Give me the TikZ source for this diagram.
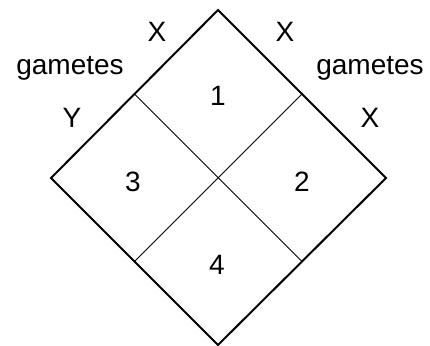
\documentclass[tikz,border=0pt]{standalone}
\usepackage{fontspec}
\setmainfont{Liberation Sans}
\usepackage{tikz}
\usetikzlibrary{positioning,calc}
\tikzset{
  rim/.style={line width=2pt, line join=miter},
  grid/.style={line width=0.8pt},
  lbl/.style={font=\fontsize{28}{30}\selectfont, inner sep=0pt},
  num/.style={lbl},
}

\begin{document}
\begin{tikzpicture}[x=1pt, y=-1pt]
\useasboundingbox (0,0) rectangle (430,345);
% corners of the square
\coordinate (top) at (218,10);
\coordinate (rgt) at (386,178);
\coordinate (bot) at (218,345);
\coordinate (lft) at (51,178);
\coordinate (ul) at ($(top)!0.5!(lft)$);
\coordinate (ur) at ($(top)!0.5!(rgt)$);
\coordinate (ll) at ($(bot)!0.5!(lft)$);
\coordinate (lr) at ($(bot)!0.5!(rgt)$);
\draw[grid] (ul) -- (lr);
\draw[grid] (ur) -- (ll);
\draw[rim] (top) -- (rgt) -- (bot) -- (lft) -- cycle;
% gamete labels
\node[lbl] (xa) at (157,32) {X};
\node[lbl] (xb) at (285,32) {X};
\node[lbl] (gl) at (70,68) {gametes};
\node[lbl] (gr) at (370,68) {gametes};
\node[lbl] (ya) at (72,118) {Y};
\node[lbl] (xc) at (370,118) {X};
% cells
\node[num] (c1) at (218,96) {1};
\node[num] (c2) at (302,182) {2};
\node[num] (c3) at (133,182) {3};
\node[num] (c4) at (217,265) {4};
\end{tikzpicture}
\end{document}
